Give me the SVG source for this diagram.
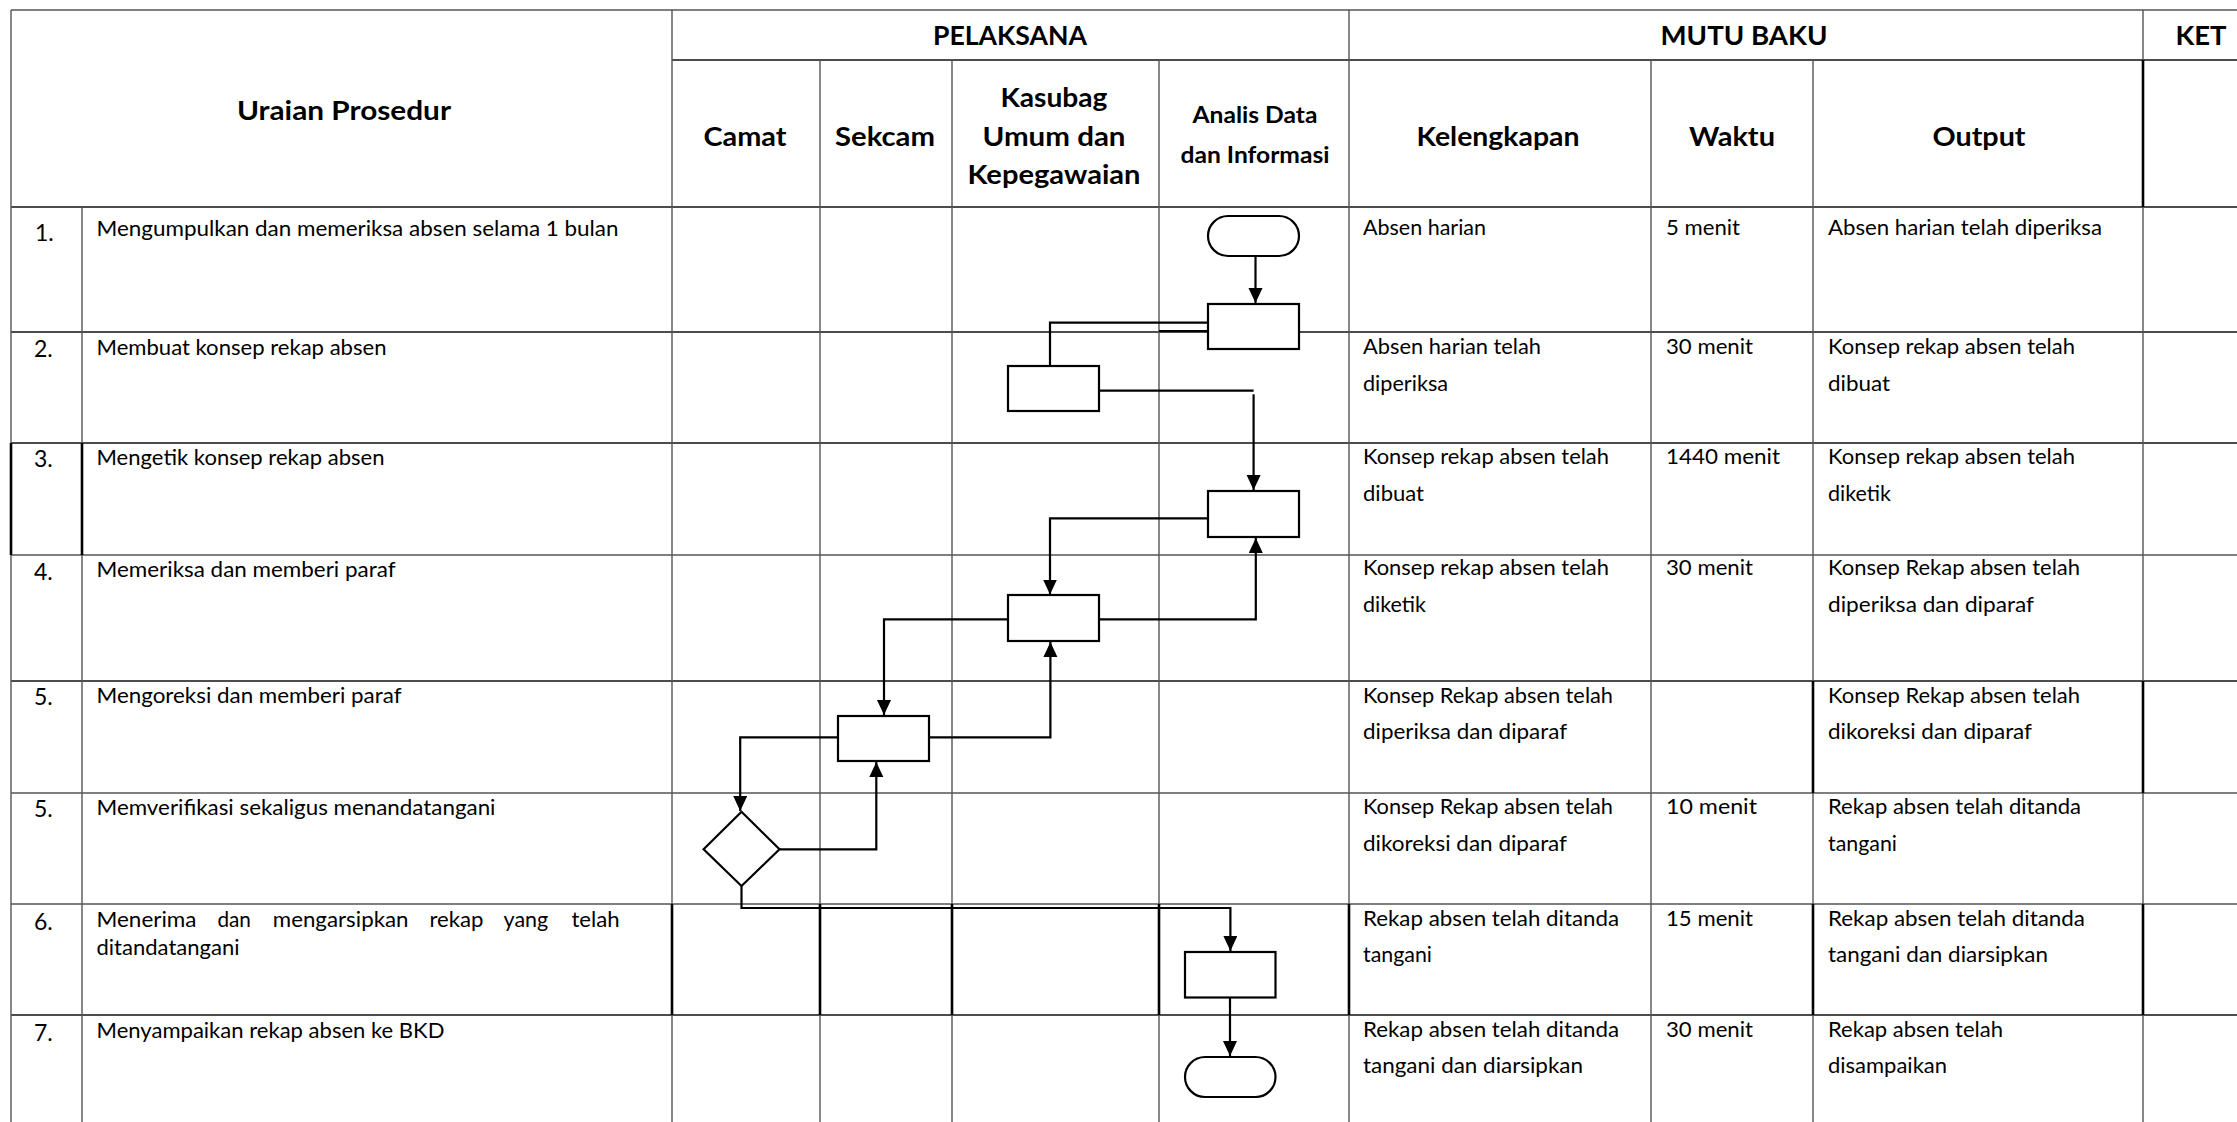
<svg xmlns="http://www.w3.org/2000/svg" width="2237" height="1122" viewBox="0 0 2237 1122">
<style>
.bg{fill:#fff}
.h{stroke:#111;stroke-width:1.5;fill:none}
.v{stroke:#555;stroke-width:1.4;fill:none}
.tk{stroke:#000;stroke-width:2.6;fill:none}
.node{fill:#fff;stroke:#000;stroke-width:2.2}
.con{fill:none;stroke:#000;stroke-width:2.2}
.hd{font-family:Lato,"Liberation Sans",sans-serif;font-weight:bold;font-size:26px;fill:#000;text-anchor:middle}
.hs{font-family:Lato,"Liberation Sans",sans-serif;font-weight:bold;font-size:22px;fill:#000;text-anchor:middle}
.tx{font-family:Lato,"Liberation Sans",sans-serif;font-size:20.5px;fill:#000}
.mt{font-family:Lato,"Liberation Sans",sans-serif;font-size:21px;fill:#000}
.nm{font-family:Lato,"Liberation Sans",sans-serif;font-size:23px;fill:#000}
</style>
<defs>
<marker id="arr" markerUnits="userSpaceOnUse" markerWidth="16" markerHeight="15" refX="15" refY="7" orient="auto">
<path d="M0,0 L15,7 L0,14 z" fill="#000"/>
</marker>
</defs>
<rect class="bg" x="0" y="0" width="2237" height="1122"/>

<g id="table">
<line class="v" x1="11" y1="10" x2="2237" y2="10"/>
<line class="h" x1="672" y1="60" x2="2237" y2="60"/>
<line class="h" x1="11" y1="207" x2="2237" y2="207"/>
<line class="h" x1="11" y1="332" x2="2237" y2="332"/>
<line class="h" x1="11" y1="443" x2="2237" y2="443"/>
<line class="v" x1="11" y1="555" x2="2237" y2="555"/>
<line class="h" x1="11" y1="681" x2="2237" y2="681"/>
<line class="v" x1="11" y1="793" x2="2237" y2="793"/>
<line class="v" x1="11" y1="904" x2="2237" y2="904"/>
<line class="h" x1="11" y1="1015" x2="2237" y2="1015"/>
<line class="v" x1="11" y1="10" x2="11" y2="1122"/>
<line class="v" x1="82" y1="207" x2="82" y2="1122"/>
<line class="v" x1="672" y1="10" x2="672" y2="1122"/>
<line class="v" x1="820" y1="60" x2="820" y2="1122"/>
<line class="v" x1="952" y1="60" x2="952" y2="1122"/>
<line class="v" x1="1159" y1="60" x2="1159" y2="1122"/>
<line class="v" x1="1349" y1="10" x2="1349" y2="1122"/>
<line class="v" x1="1651" y1="60" x2="1651" y2="1122"/>
<line class="v" x1="1813" y1="60" x2="1813" y2="1122"/>
<line class="v" x1="2143" y1="10" x2="2143" y2="1122"/>
<line class="tk" x1="11" y1="443" x2="11" y2="555"/>
<line class="tk" x1="82" y1="443" x2="82" y2="555"/>
<line class="tk" x1="2143" y1="60" x2="2143" y2="207"/>
<line class="tk" x1="1813" y1="681" x2="1813" y2="793"/>
<line class="tk" x1="2143" y1="681" x2="2143" y2="793"/>
<line class="tk" x1="672" y1="904" x2="672" y2="1015"/>
<line class="tk" x1="820" y1="904" x2="820" y2="1015"/>
<line class="tk" x1="952" y1="904" x2="952" y2="1015"/>
<line class="tk" x1="1159" y1="904" x2="1159" y2="1015"/>
<line class="tk" x1="1349" y1="904" x2="1349" y2="1015"/>
<line class="tk" x1="1813" y1="904" x2="1813" y2="1015"/>
<line class="tk" x1="2143" y1="904" x2="2143" y2="1015"/>
</g>

<g id="headers">
<text class="hd" x="344" y="120" textLength="214" lengthAdjust="spacingAndGlyphs">Uraian Prosedur</text>
<text class="hd" x="1010" y="45" textLength="154" lengthAdjust="spacingAndGlyphs">PELAKSANA</text>
<text class="hd" x="1744" y="45" textLength="167" lengthAdjust="spacingAndGlyphs">MUTU BAKU</text>
<text class="hd" x="2201" y="45" textLength="51" lengthAdjust="spacingAndGlyphs">KET</text>
<text class="hd" x="745" y="146" textLength="83" lengthAdjust="spacingAndGlyphs">Camat</text>
<text class="hd" x="885" y="146" textLength="100" lengthAdjust="spacingAndGlyphs">Sekcam</text>
<text class="hd" x="1054" y="107" textLength="107" lengthAdjust="spacingAndGlyphs">Kasubag</text>
<text class="hd" x="1054" y="146" textLength="143" lengthAdjust="spacingAndGlyphs">Umum dan</text>
<text class="hd" x="1054" y="184" textLength="173" lengthAdjust="spacingAndGlyphs">Kepegawaian</text>
<text class="hs" x="1255" y="123" textLength="125" lengthAdjust="spacingAndGlyphs">Analis Data</text>
<text class="hs" x="1255" y="163" textLength="149" lengthAdjust="spacingAndGlyphs">dan Informasi</text>
<text class="hd" x="1498" y="146" textLength="163" lengthAdjust="spacingAndGlyphs">Kelengkapan</text>
<text class="hd" x="1732" y="146" textLength="86" lengthAdjust="spacingAndGlyphs">Waktu</text>
<text class="hd" x="1979" y="146" textLength="93" lengthAdjust="spacingAndGlyphs">Output</text>
</g>

<g id="steps">
<text class="nm" x="35" y="241">1.</text>
<text class="nm" x="34" y="357">2.</text>
<text class="nm" x="34" y="467">3.</text>
<text class="nm" x="34" y="580">4.</text>
<text class="nm" x="34" y="705">5.</text>
<text class="nm" x="34" y="817">5.</text>
<text class="nm" x="34" y="930">6.</text>
<text class="nm" x="34" y="1041">7.</text>
<text class="tx" x="96.5" y="236" textLength="522" lengthAdjust="spacingAndGlyphs">Mengumpulkan dan memeriksa absen selama 1 bulan</text>
<text class="tx" x="96.5" y="355" textLength="290" lengthAdjust="spacingAndGlyphs">Membuat konsep rekap absen</text>
<text class="tx" x="96.5" y="465" textLength="288" lengthAdjust="spacingAndGlyphs">Mengetik konsep rekap absen</text>
<text class="tx" x="96.5" y="577" textLength="299" lengthAdjust="spacingAndGlyphs">Memeriksa dan memberi paraf</text>
<text class="tx" x="96.5" y="703" textLength="305" lengthAdjust="spacingAndGlyphs">Mengoreksi dan memberi paraf</text>
<text class="tx" x="96.5" y="815" textLength="399" lengthAdjust="spacingAndGlyphs">Memverifikasi sekaligus menandatangani</text>
<text class="tx" x="96.5" y="927" textLength="100" lengthAdjust="spacingAndGlyphs">Menerima</text>
<text class="tx" x="217.4" y="927" textLength="33.5" lengthAdjust="spacingAndGlyphs">dan</text>
<text class="tx" x="272.8" y="927" textLength="135.7" lengthAdjust="spacingAndGlyphs">mengarsipkan</text>
<text class="tx" x="429.5" y="927" textLength="54" lengthAdjust="spacingAndGlyphs">rekap</text>
<text class="tx" x="503.6" y="927" textLength="44.6" lengthAdjust="spacingAndGlyphs">yang</text>
<text class="tx" x="571.4" y="927" textLength="48.2" lengthAdjust="spacingAndGlyphs">telah</text>
<text class="tx" x="96.5" y="955" textLength="143" lengthAdjust="spacingAndGlyphs">ditandatangani</text>
<text class="tx" x="96.5" y="1038" textLength="348" lengthAdjust="spacingAndGlyphs">Menyampaikan rekap absen ke BKD</text>
</g>

<g id="mutu-baku">
<text class="mt" x="1363" y="235" textLength="123" lengthAdjust="spacingAndGlyphs">Absen harian</text>
<text class="mt" x="1666" y="235" textLength="74" lengthAdjust="spacingAndGlyphs">5 menit</text>
<text class="mt" x="1828" y="235" textLength="274" lengthAdjust="spacingAndGlyphs">Absen harian telah diperiksa</text>

<text class="mt" x="1363" y="354" textLength="178" lengthAdjust="spacingAndGlyphs">Absen harian telah</text>
<text class="mt" x="1363" y="391" textLength="85" lengthAdjust="spacingAndGlyphs">diperiksa</text>
<text class="mt" x="1666" y="354" textLength="87" lengthAdjust="spacingAndGlyphs">30 menit</text>
<text class="mt" x="1828" y="354" textLength="247" lengthAdjust="spacingAndGlyphs">Konsep rekap absen telah</text>
<text class="mt" x="1828" y="391" textLength="62" lengthAdjust="spacingAndGlyphs">dibuat</text>

<text class="mt" x="1363" y="464" textLength="246" lengthAdjust="spacingAndGlyphs">Konsep rekap absen telah</text>
<text class="mt" x="1363" y="501" textLength="61" lengthAdjust="spacingAndGlyphs">dibuat</text>
<text class="mt" x="1666" y="464" textLength="114" lengthAdjust="spacingAndGlyphs">1440 menit</text>
<text class="mt" x="1828" y="464" textLength="247" lengthAdjust="spacingAndGlyphs">Konsep rekap absen telah</text>
<text class="mt" x="1828" y="501" textLength="63" lengthAdjust="spacingAndGlyphs">diketik</text>

<text class="mt" x="1363" y="575" textLength="246" lengthAdjust="spacingAndGlyphs">Konsep rekap absen telah</text>
<text class="mt" x="1363" y="612" textLength="63" lengthAdjust="spacingAndGlyphs">diketik</text>
<text class="mt" x="1666" y="575" textLength="87" lengthAdjust="spacingAndGlyphs">30 menit</text>
<text class="mt" x="1828" y="575" textLength="252" lengthAdjust="spacingAndGlyphs">Konsep Rekap absen telah</text>
<text class="mt" x="1828" y="612" textLength="206" lengthAdjust="spacingAndGlyphs">diperiksa dan diparaf</text>

<text class="mt" x="1363" y="703" textLength="250" lengthAdjust="spacingAndGlyphs">Konsep Rekap absen telah</text>
<text class="mt" x="1363" y="739" textLength="204" lengthAdjust="spacingAndGlyphs">diperiksa dan diparaf</text>
<text class="mt" x="1828" y="703" textLength="252" lengthAdjust="spacingAndGlyphs">Konsep Rekap absen telah</text>
<text class="mt" x="1828" y="739" textLength="204" lengthAdjust="spacingAndGlyphs">dikoreksi dan diparaf</text>

<text class="mt" x="1363" y="814" textLength="250" lengthAdjust="spacingAndGlyphs">Konsep Rekap absen telah</text>
<text class="mt" x="1363" y="851" textLength="204" lengthAdjust="spacingAndGlyphs">dikoreksi dan diparaf</text>
<text class="mt" x="1666" y="814" textLength="91" lengthAdjust="spacingAndGlyphs">10  menit</text>
<text class="mt" x="1828" y="814" textLength="253" lengthAdjust="spacingAndGlyphs">Rekap absen telah ditanda</text>
<text class="mt" x="1828" y="851" textLength="69" lengthAdjust="spacingAndGlyphs">tangani</text>

<text class="mt" x="1363" y="926" textLength="256" lengthAdjust="spacingAndGlyphs">Rekap absen  telah ditanda</text>
<text class="mt" x="1363" y="962" textLength="69" lengthAdjust="spacingAndGlyphs">tangani</text>
<text class="mt" x="1666" y="926" textLength="87" lengthAdjust="spacingAndGlyphs">15 menit</text>
<text class="mt" x="1828" y="926" textLength="257" lengthAdjust="spacingAndGlyphs">Rekap absen  telah ditanda</text>
<text class="mt" x="1828" y="962" textLength="220" lengthAdjust="spacingAndGlyphs">tangani dan diarsipkan</text>

<text class="mt" x="1363" y="1037" textLength="256" lengthAdjust="spacingAndGlyphs">Rekap absen  telah ditanda</text>
<text class="mt" x="1363" y="1073" textLength="220" lengthAdjust="spacingAndGlyphs">tangani dan diarsipkan</text>
<text class="mt" x="1666" y="1037" textLength="87" lengthAdjust="spacingAndGlyphs">30 menit</text>
<text class="mt" x="1828" y="1037" textLength="175" lengthAdjust="spacingAndGlyphs">Rekap absen telah</text>
<text class="mt" x="1828" y="1073" textLength="119" lengthAdjust="spacingAndGlyphs">disampaikan</text>
</g>

<g id="connectors">
<path class="con" d="M1255.5,256 V303" marker-end="url(#arr)"/>
<path class="con" d="M1208,322.7 H1050 V366"/>
<path class="con" d="M1159,331 H1208"/>
<path class="con" d="M1099,390.7 H1253.6"/>
<path class="con" d="M1253.6,394.3 V490" marker-end="url(#arr)"/>
<path class="con" d="M1208,518.3 H1050 V594.5" marker-end="url(#arr)"/>
<path class="con" d="M1099,619.3 H1255.8 V538" marker-end="url(#arr)"/>
<path class="con" d="M1008,619.3 H884 V715" marker-end="url(#arr)"/>
<path class="con" d="M929,737.3 H1050.4 V642" marker-end="url(#arr)"/>
<path class="con" d="M838,737.3 H740.2 V811" marker-end="url(#arr)"/>
<path class="con" d="M779.5,849.3 H876.3 V762" marker-end="url(#arr)"/>
<path class="con" d="M741.5,886 V908 H1230.4 V951" marker-end="url(#arr)"/>
<path class="con" d="M1230,997.3 V1056" marker-end="url(#arr)"/>
</g>

<g id="n1-start"><rect class="node" x="1208" y="216" width="91" height="40" rx="20"/></g>
<g id="n2-collect"><rect class="node" x="1208" y="304" width="91" height="45"/></g>
<g id="n3-draft"><rect class="node" x="1008" y="366" width="91" height="45"/></g>
<g id="n4-type"><rect class="node" x="1208" y="491" width="91" height="46"/></g>
<g id="n5-check"><rect class="node" x="1008" y="595" width="91" height="46"/></g>
<g id="n6-correct"><rect class="node" x="838" y="716" width="91" height="45"/></g>
<g id="n7-verify"><polygon class="node" points="741.5,811.7 779.5,849.3 741.5,886 703.6,849.3"/></g>
<g id="n8-archive"><rect class="node" x="1185" y="952" width="90.5" height="45.5"/></g>
<g id="n9-end"><rect class="node" x="1185" y="1057" width="90.5" height="40" rx="20"/></g>
</svg>
